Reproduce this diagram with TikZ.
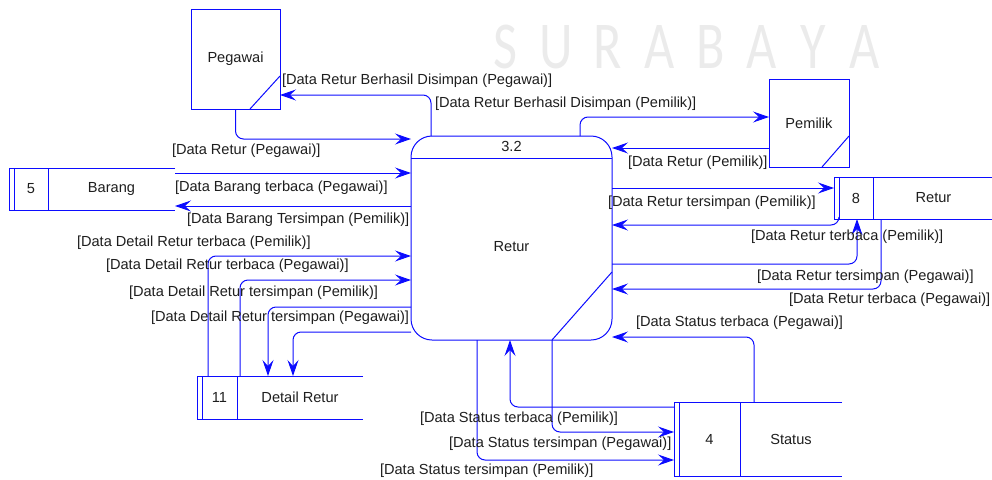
\documentclass[tikz,border=0pt]{standalone}
\usepackage{graphicx}
\usepackage{fontspec}
\setmainfont{Liberation Sans}
\newfontfamily\wmfont{Carlito}
\usetikzlibrary{arrows.meta,calc}

\definecolor{dfdblue}{RGB}{12,12,255}
\definecolor{labelgray}{RGB}{30,30,30}
\definecolor{wmgray}{RGB}{235,235,235}

% data store: name, left x, top y, right x, bottom y, divider x, number, title
\newcommand\datastore[8]{%
  \node[minimum width={#4-#2}, minimum height={#5-#3}, anchor=north west] (#1) at (#2,#3) {};
  \draw[edge] (#1.north east) -- (#1.north west) -- (#1.south west) -- (#1.south east);
  \draw[edge] ($(#1.north west)+(5,0)$) -- ($(#1.south west)+(5,0)$);
  \draw[edge] (#1.north west -| #6,0) -- (#1.south west -| #6,0);
  \node (#1-num) at ({(#2+5+#6)/2},{(#3+#5)/2}) {#7};
  \node (#1-name) at ({(#6+#4)/2},{(#3+#5)/2}) {#8};
}

\begin{document}
\begin{tikzpicture}[x=1pt,y=-1pt,
  every node/.style={inner sep=0pt, outer sep=0pt,
    font=\fontsize{14.6}{17}\selectfont, text=labelgray},
  edge/.style={draw=dfdblue, line width=1pt},
  flow/.style={edge, rounded corners=8pt,
    -{Stealth[length=16pt,width=11pt,inset=6pt]}},
  lbl/.style={anchor=west},
  entity/.style={draw=dfdblue, line width=1pt},
  procbox/.style={draw=dfdblue, line width=1pt, rounded corners=21pt, fill=white},
]
\useasboundingbox (0,0) rectangle (992,479);

% faint lettering in the top band
\foreach \ch [count=\i] in {S,U,R,A,B,A,Y,A}
  \node[font=\wmfont\fontsize{67}{67}\selectfont, text=wmgray, anchor=base]
    (wm\i) at ({505+51.4*(\i-1)},68) {\scalebox{0.78}[1]{\ch}};

% process 3.2
\node[procbox, minimum width=201pt, minimum height=204pt] (proc) at (511.5,238) {};
\draw[edge] (proc.west |- 0,158) -- (proc.east |- 0,158);
\draw[edge] (proc.south -| 552,0) -- (proc.east |- 0,272);
\node (procid) at (proc.north |- 0,146) {3.2};
\node (procname) at (511.5,247) {Retur};

% external entities
\node[entity, minimum width=89pt, minimum height=100pt] (peg) at (235.5,59) {Pegawai};
\draw[edge] ($(peg.south east)+(-30,0)$) -- ($(peg.south east)+(0,-33)$);
\node[entity, minimum width=80pt, minimum height=88pt] (pem) at (809,123) {Pemilik};
\draw[edge] ($(pem.south east)+(-27,0)$) -- ($(pem.south east)+(0,-31)$);

% data stores
\datastore{barang}{9}{168}{175}{210}{48}{5}{Barang}
\datastore{ret}{834}{177}{994}{219}{873}{8}{Retur}
\datastore{det}{197}{376}{363}{419}{237}{11}{Detail Retur}
\datastore{stat}{674}{402}{842}{476}{740}{4}{Status}

% flows with Pegawai and Pemilik
\draw[flow] (proc.north -| 431,0) |- (peg.east |- 0,95);
\draw[flow] (peg.south) |- (proc.west |- 0,139);
\draw[flow] (proc.north -| 580,0) |- (pem.west |- 0,117);
\draw[flow] (pem.west |- 0,148) -- (proc.east |- 0,148);

% flows with Barang
\draw[flow] (barang.east |- 0,173) -- (proc.west |- 0,173);
\draw[flow] (proc.west |- 0,206) -- (barang.east |- 0,206);

% flows with Retur
\draw[flow] (proc.east |- 0,188) -- (ret.west |- 0,188);
\draw[flow] (ret.south -| 839,0) |- (proc.east |- 0,225);
\draw[flow] (proc.east |- 0,264) -| (ret.south -| 857,0);
\draw[flow] (ret.south -| 881,0) |- (proc.east |- 0,289);

% flows with Status
\draw[flow] (stat.north -| 754,0) |- (proc.east |- 0,337);
\draw[flow] (stat.west |- 0,407) -| (proc.south -| 510,0);
\draw[flow] (proc.south -| 552,0) |- (stat.west |- 0,432);
\draw[flow] (proc.south -| 477,0) |- (stat.west |- 0,460);

% flows with Detail Retur
\draw[flow] (det.north -| 208,0) |- (proc.west |- 0,256);
\draw[flow] (det.north -| 240,0) |- (proc.west |- 0,280);
\draw[flow] (proc.west |- 0,307) -| (det.north -| 268,0);
\draw[flow] (proc.west |- 0,332) -| (det.north -| 293,0);

% flow labels
\node[lbl] (l1)  at (282,81)  {[Data Retur Berhasil Disimpan (Pegawai)]};
\node[lbl] (l2)  at (435,104) {[Data Retur Berhasil Disimpan (Pemilik)]};
\node[lbl] (l3)  at (172,151) {[Data Retur (Pegawai)]};
\node[lbl] (l4)  at (175,188) {[Data Barang terbaca (Pegawai)]};
\node[lbl] (l5)  at (187,220) {[Data Barang Tersimpan (Pemilik)]};
\node[lbl] (l6)  at (628,163) {[Data Retur (Pemilik)]};
\node[lbl] (l7)  at (608,203) {[Data Retur tersimpan (Pemilik)]};
\node[lbl] (l8)  at (751,237) {[Data Retur terbaca (Pemilik)]};
\node[lbl] (l9)  at (757,277) {[Data Retur tersimpan (Pegawai)]};
\node[lbl] (l10) at (789,300) {[Data Retur terbaca (Pegawai)]};
\node[lbl] (l11) at (77,243)  {[Data Detail Retur terbaca (Pemilik)]};
\node[lbl] (l12) at (106,266) {[Data Detail Retur terbaca (Pegawai)]};
\node[lbl] (l13) at (129,293) {[Data Detail Retur tersimpan (Pemilik)]};
\node[lbl] (l14) at (151,318) {[Data Detail Retur tersimpan (Pegawai)]};
\node[lbl] (l15) at (636,323) {[Data Status terbaca (Pegawai)]};
\node[lbl] (l16) at (420,419) {[Data Status terbaca (Pemilik)]};
\node[lbl] (l17) at (449,444) {[Data Status tersimpan (Pegawai)]};
\node[lbl] (l18) at (380,471) {[Data Status tersimpan (Pemilik)]};
\end{tikzpicture}
\end{document}
